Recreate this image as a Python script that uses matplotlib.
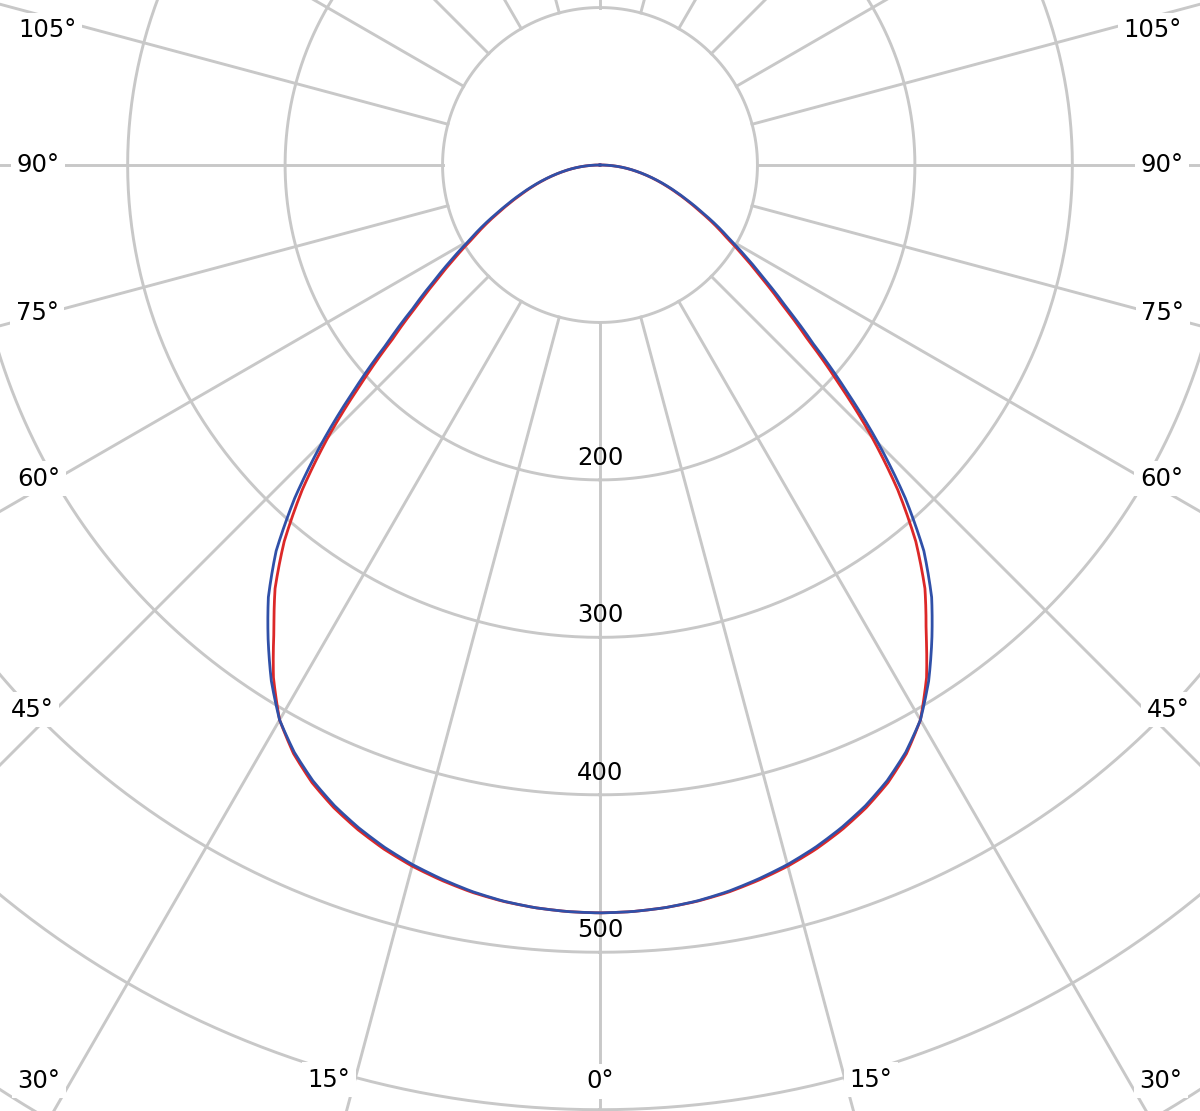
import numpy as np
import matplotlib
matplotlib.use("Agg")
import matplotlib.pyplot as plt

# luminous intensity (symmetric, 0 = straight down)
angles = [0, 2.5, 5, 7.5, 10, 12.5, 15, 17.5, 20, 22.5, 25, 27.5, 30, 32.5, 35, 37.5, 40, 42.5, 45,
          47.5, 50, 52.5, 55, 57.5, 60, 62.5, 65, 67.5, 70, 72.5, 75, 77.5, 80, 82.5, 85, 87.5, 90]
blue_cd = [475, 474.6, 473.5, 471.5, 468.5, 464.5, 460, 454.5, 448, 440.5, 431.5, 420.5, 407, 388.5,
           367.5, 346, 320, 287, 250, 212, 177, 150, 129, 111.5, 96, 84, 72, 62, 53, 45, 37.5, 30.5,
           24, 18, 12, 6, 0]
red_cd = [475, 474.6, 473.5, 471.7, 469, 465.3, 461, 455.7, 449.3, 441.8, 432.8, 421.5, 407, 386,
          361, 339, 312, 280, 244, 206, 172, 146, 125.5, 108.5, 93.5, 82, 70.5, 60.8, 52, 44.2, 37,
          30.2, 23.7, 17.8, 12, 6, 0]

ring_values = [100, 200, 300, 400, 500, 600, 700]
ring_labels = [200, 300, 400, 500]
spoke_angles = list(range(0, 360, 15))
angle_labels = [0, 15, 30, 45, 60, 75, 90, 105]

GRID = "#c8c8c8"
BLUE = "#3050a8"
RED = "#dc2828"

W, H, DPI = 1200, 1111, 100
cx, cy = 600, 165          # centre of the diagram in pixels (from top)
px_per_cd = 1.5745
rmax = 720

fig = plt.figure(figsize=(W / DPI, H / DPI), dpi=DPI)
R = rmax * px_per_cd
ax = fig.add_axes([(cx - R) / W, (H - cy - R) / H, 2 * R / W, 2 * R / H], projection="polar")
ax.set_theta_zero_location("S")
ax.set_rlim(0, rmax)
ax.grid(False)
ax.set_xticks([])
ax.set_yticks([])
ax.spines["polar"].set_visible(False)

# grid: rings and spokes
t = np.linspace(0, 2 * np.pi, 721)
for v in ring_values:
    ax.plot(t, np.full_like(t, v), color=GRID, lw=2.1, zorder=1)
for a in spoke_angles:
    ax.plot([np.radians(a)] * 2, [100, rmax], color=GRID, lw=2.1, zorder=1)


def mirror(ang, vals):
    ang = np.radians(ang)
    th = np.concatenate([-ang[::-1], ang[1:]])
    r = np.concatenate([np.array(vals)[::-1], np.array(vals)[1:]])
    return th, r


for vals, col, z in [(red_cd, RED, 4), (blue_cd, BLUE, 5)]:
    th, r = mirror(np.array(angles), vals)
    ln, = ax.plot(th, r, color=col, lw=2.0, zorder=z)
    # draw segments as curves in polar space instead of straight chords
    ln.get_path()._interpolation_steps = 20

# value labels along the 0 line
for v in ring_labels:
    ax.text(0, v - 14, str(v), ha="center", va="center", fontsize=17.5, color="black", zorder=3)

# angle labels, placed at the picture edges
label_pos = {0: (0, 582), 15: (16.5, 606), 30: (31.5, 682), 45: (46.2, 500),
             60: (60.8, 408.5), 75: (75.3, 369.5), 90: (90, 357), 105: (103.7, 361)}
box = dict(fc="white", ec="none", pad=4)
for a in angle_labels:
    pa, pr = label_pos[a]
    sides = [1] if a == 0 else [-1, 1]
    for s in sides:
        ax.text(np.radians(s * pa), pr, f"{a}°", ha="center", va="center",
                fontsize=17.5, color="black", bbox=box, zorder=6)

fig.savefig("out.png", dpi=DPI)
